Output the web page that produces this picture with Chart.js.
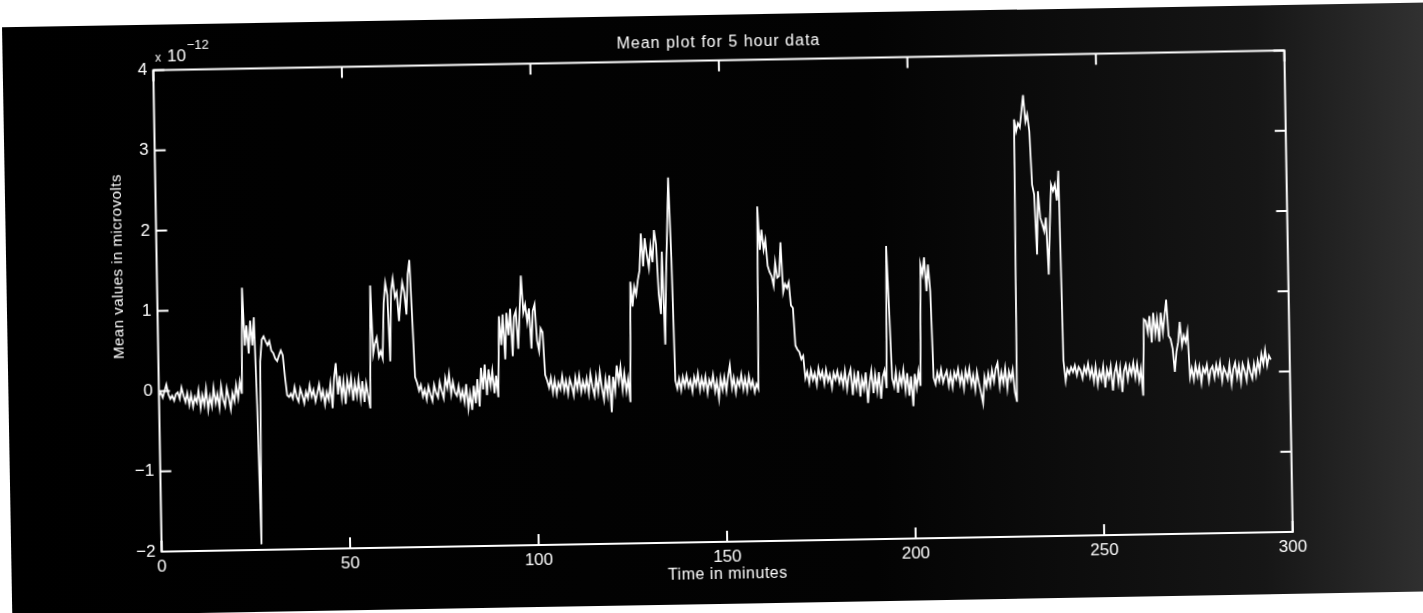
<!DOCTYPE html>
<html>
<head>
<meta charset="utf-8">
<title>Mean plot for 5 hour data</title>
<script src="https://cdn.jsdelivr.net/npm/chart.js@4.4.0/dist/chart.umd.min.js"></script>
<style>
  html, body { margin: 0; padding: 0; background: #fff; overflow: hidden; width: 1423px; height: 613px; }
  /* the printed sheet sits slightly askew on the page */
  .sheet {
    position: absolute; left: 7px; top: 15px; width: 1440px; height: 589px;
    background: linear-gradient(to right, #000 0%, #030303 60%, #161616 87%, #343434 100%);
    transform: rotate(-1deg); transform-origin: 704.5px 291.5px;
  }
</style>
</head>
<body>
<div class="sheet"><canvas id="meanChart"></canvas></div>
<script>
// Mean values (x 1e-12 microvolts), one every half minute, split by hour
const hourOne = [
  -0.05, -0.02, -0.08, 0.0, 0.08, -0.04, -0.1, -0.06, -0.12, -0.04, -0.02, -0.1, 0.04, -0.06, -0.14, -0.03, -0.18, -0.05, -0.2, -0.08,
  -0.15, 0.0, -0.22, -0.06, -0.18, 0.02, -0.24, -0.08, -0.2, 0.03, -0.16, -0.05, -0.22, 0.05, -0.12, -0.2, 0.02, -0.1, -0.24, -0.04,
  -0.14, 0.06, -0.1, 0.1, -0.05, 1.27, 0.55, 0.8, 0.45, 0.86, 0.55, 0.9, -0.2, -1.93, 0.35, 0.62, 0.66, 0.6, 0.55, 0.6,
  0.48, 0.45, 0.38, 0.35, 0.42, 0.48, 0.42, 0.15, -0.08, -0.1, -0.06, -0.12, 0.02, -0.1, -0.16, 0.0, -0.08, -0.18, -0.04, -0.12,
  0.04, -0.1, -0.02, -0.16, -0.06, 0.05, -0.12, -0.03, -0.2, -0.05, -0.14, 0.05, -0.25, 0.12, 0.31, -0.08, 0.15, -0.12, 0.08, -0.2,
  0.1, -0.05, 0.12, -0.16, 0.06, -0.1, 0.1, -0.14, 0.08, -0.18, 0.05, -0.1, -0.26, 1.27, 0.42, 0.55, 0.62, 0.38, 0.45, 0.36
];
const hourTwo = [
  1.05, 1.3, 1.15, 0.32, 1.2, 1.35, 1.12, 1.18, 0.82, 1.1, 1.3, 1.18, 0.9, 1.4, 1.58, 0.86, 0.12, 0.05, -0.05, 0.02,
  -0.12, -0.04, -0.16, 0.0, -0.1, -0.18, 0.02, -0.08, -0.14, 0.05, -0.06, -0.15, 0.1, -0.02, 0.15, -0.1, 0.05, -0.08, -0.12, 0.0,
  -0.16, -0.06, -0.2, 0.02, -0.28, -0.1, -0.3, 0.0, -0.22, 0.08, -0.26, 0.22, -0.05, 0.26, -0.12, 0.2, 0.0, 0.18, -0.1, 0.12,
  -0.15, 0.86, 0.5, 0.88, 0.32, 0.9, 0.62, 0.95, 0.36, 0.85, 0.92, 0.45, 0.9, 1.36, 0.9, 1.0, 0.78, 0.95, 0.45, 0.92,
  1.0, 0.55, 0.42, 0.7, 0.65, 0.12, 0.05, -0.04, 0.08, -0.1, 0.05, -0.12, 0.02, -0.06, 0.1, -0.08, 0.04, -0.12, 0.06, -0.02,
  -0.14, 0.08, -0.06, 0.1, -0.1, 0.03, -0.08, 0.06, -0.12, 0.12, -0.04, -0.15, 0.08, -0.1, 0.14, -0.06, -0.2, 0.05, -0.14, 0.1
];
const hourThree = [
  -0.36, 0.08, -0.1, 0.22, 0.02, 0.2, -0.08, 0.12, -0.1, 0.05, -0.24, 1.26, 0.95, 1.2, 1.1, 1.28, 1.4, 1.86, 1.45, 1.8,
  1.6, 1.43, 1.7, 1.5, 1.9, 1.72, 1.1, 0.85, 1.63, 0.47, 1.3, 1.9, 2.55, 1.55, 0.02, -0.08, 0.04, -0.1, 0.06, -0.05,
  0.08, -0.06, 0.02, -0.12, 0.06, -0.04, 0.1, -0.1, 0.04, -0.08, 0.06, -0.14, 0.02, -0.06, 0.08, -0.12, 0.0, -0.21, 0.04, -0.1,
  0.05, -0.12, 0.06, 0.2, -0.08, 0.04, -0.14, 0.02, -0.06, 0.08, -0.1, 0.03, -0.12, 0.06, -0.08, 0.0, -0.14, -0.04, -0.1, 2.17,
  1.63, 1.88, 1.63, 1.75, 1.43, 1.35, 1.3, 1.18, 1.47, 1.28, 1.3, 1.72, 1.1, 1.2, 1.15, 1.22, 0.93, 0.9, 0.43, 0.38,
  0.35, 0.26, 0.3, 0.02, 0.1, -0.04, 0.12, 0.0, 0.08, -0.06, 0.14, 0.02, 0.1, -0.05, 0.12, -0.02, 0.06, -0.1, 0.08, 0.0
];
const hourFour = [
  0.1, -0.04, 0.06, -0.08, 0.1, -0.12, 0.04, 0.12, -0.2, 0.05, -0.1, 0.1, -0.22, 0.0, -0.12, 0.08, -0.3, -0.05, 0.1, -0.18,
  0.05, -0.15, 0.08, -0.25, 0.02, 0.1, -0.12, 1.65, 0.85, 0.0, -0.1, 0.08, -0.18, 0.04, -0.08, 0.1, -0.15, 0.06, -0.22, 0.02,
  -0.35, 0.05, -0.12, 0.08, -0.1, 1.41, 1.29, 1.5, 1.08, 1.41, 1.08, 0.0, -0.08, 0.06, -0.04, 0.1, -0.06, 0.02, 0.08, -0.1,
  0.04, -0.12, 0.06, -0.02, 0.1, -0.08, 0.04, -0.14, 0.08, -0.04, 0.1, -0.1, 0.02, -0.16, 0.06, -0.08, -0.2, -0.33, 0.0, -0.12,
  0.04, -0.1, 0.08, -0.06, 0.1, 0.17, -0.12, 0.05, -0.08, 0.1, -0.15, 0.06, -0.04, 0.08, -0.2, -0.32, 3.2, 3.05, 3.15, 3.1,
  3.3, 3.5, 3.17, 3.26, 3.05, 2.38, 2.26, 1.51, 2.3, 1.97, 1.89, 1.8, 1.97, 1.26, 1.85, 2.38, 2.3, 2.38, 2.18, 2.55
];
const hourFive = [
  0.18, -0.07, 0.08, 0.02, 0.1, 0.04, 0.12, 0.0, 0.1, 0.06, -0.04, 0.1, 0.02, 0.14, -0.02, 0.08, -0.08, 0.1, -0.12, 0.04,
  -0.06, 0.1, -0.16, 0.06, -0.04, 0.1, -0.2, 0.02, 0.12, -0.1, 0.08, -0.22, 0.04, 0.12, -0.06, 0.1, 0.0, 0.14, -0.04, 0.12,
  -0.08, 0.06, -0.27, 0.68, 0.66, 0.52, 0.72, 0.39, 0.76, 0.5, 0.68, 0.4, 0.76, 0.52, 0.72, 0.92, 0.47, 0.43, 0.31, 0.02,
  0.27, 0.39, 0.64, 0.35, 0.47, 0.39, 0.52, -0.05, 0.06, -0.08, 0.1, -0.04, 0.08, -0.12, 0.06, 0.0, 0.1, -0.1, 0.04, 0.08,
  -0.06, 0.1, -0.02, 0.12, -0.1, 0.06, 0.0, -0.08, 0.1, -0.14, 0.04, 0.12, -0.06, 0.08, -0.12, 0.1, 0.02, -0.1, 0.12, 0.0,
  -0.08, 0.1, -0.04, 0.14, 0.02, 0.22, 0.1, 0.27, 0.08, 0.2, 0.15
];

const sampleStep = 0.5; // minutes between means
const xTicks = [0, 50, 100, 150, 200, 250, 300];
const yTicks = [-2, -1, 0, 1, 2, 3, 4];

const points = [];
[hourOne, hourTwo, hourThree, hourFour, hourFive].forEach((values, h) => {
  values.forEach((v, i) => points.push({ x: h * 60 + i * sampleStep, y: v }));
});

Chart.defaults.font.family = '"Liberation Sans", Arial, Helvetica, sans-serif';
Chart.defaults.color = '#fff';

/**
 * Boxed axes with inward ticks on all sides, plus title, labels and the exponent
 */
const axesFrame = {
  id: 'axesFrame',
  afterDraw(chart) {
    const { ctx, chartArea: a, scales: { x, y } } = chart;
    const tick = 11;
    ctx.save();
    ctx.strokeStyle = '#fff';
    ctx.fillStyle = '#fff';
    ctx.lineWidth = 2;
    ctx.strokeRect(a.left, a.top, a.right - a.left, a.bottom - a.top);

    ctx.beginPath();
    x.ticks.forEach(t => {
      const px = x.getPixelForValue(t.value);
      ctx.moveTo(px, a.bottom); ctx.lineTo(px, a.bottom - tick);
      ctx.moveTo(px, a.top); ctx.lineTo(px, a.top + tick);
    });
    y.ticks.forEach(t => {
      const py = y.getPixelForValue(t.value);
      ctx.moveTo(a.left, py); ctx.lineTo(a.left + tick, py);
      ctx.moveTo(a.right, py); ctx.lineTo(a.right - tick, py);
    });
    ctx.stroke();

    const midX = (a.left + a.right) / 2;
    const midY = (a.top + a.bottom) / 2;
    ctx.textBaseline = 'middle';
    ctx.textAlign = 'center';

    ctx.font = '16px "Liberation Sans", Arial, sans-serif';
    ctx.letterSpacing = '1px';
    ctx.fillText('Mean plot for 5 hour data', midX, a.top - 18);

    ctx.letterSpacing = '0.5px';
    ctx.fillText('Time in minutes', midX, a.bottom + 33);

    ctx.save();
    ctx.translate(a.left - 39, midY - 45);
    ctx.rotate(-Math.PI / 2);
    ctx.font = '15px "Liberation Sans", Arial, sans-serif';
    ctx.fillText('Mean values in microvolts', 0, 0);
    ctx.restore();

    // exponent over the y axis
    ctx.letterSpacing = '0px';
    ctx.textAlign = 'left';
    ctx.font = '12px "Liberation Sans", Arial, sans-serif';
    ctx.fillText('x', a.left + 2, a.top - 12);
    ctx.font = '17px "Liberation Sans", Arial, sans-serif';
    ctx.fillText('10', a.left + 14, a.top - 13);
    ctx.font = '13px "Liberation Sans", Arial, sans-serif';
    ctx.fillText('\u221212', a.left + 34, a.top - 24);
    ctx.restore();
  }
};

new Chart(document.getElementById('meanChart'), {
  type: 'line',
  data: {
    datasets: [{
      data: points,
      borderColor: '#fff',
      borderWidth: 1.8,
      pointRadius: 0,
      tension: 0,
      fill: false
    }]
  },
  options: {
    responsive: true,
    maintainAspectRatio: false,
    animation: false,
    layout: { padding: { left: 110.5, top: 45.5, right: 158.3, bottom: 32 } },
    plugins: {
      legend: { display: false },
      tooltip: { enabled: false }
    },
    scales: {
      x: {
        type: 'linear',
        min: 0,
        max: 300,
        afterBuildTicks: scale => { scale.ticks = xTicks.map(v => ({ value: v })); },
        afterFit: scale => { scale.height = 30; },
        grid: { display: false, drawTicks: false },
        border: { display: false },
        ticks: { color: '#fff', padding: 5, maxRotation: 0, autoSkip: false, font: { size: 17 } }
      },
      y: {
        type: 'linear',
        min: -2,
        max: 4,
        afterBuildTicks: scale => { scale.ticks = yTicks.map(v => ({ value: v })); },
        afterFit: scale => { scale.width = 40; },
        grid: { display: false, drawTicks: false },
        border: { display: false },
        ticks: {
          color: '#fff',
          padding: 6,
          autoSkip: false,
          font: { size: 17 },
          callback: value => (value < 0 ? '\u2212' + Math.abs(value) : String(value))
        }
      }
    }
  },
  plugins: [axesFrame]
});
</script>
</body>
</html>
